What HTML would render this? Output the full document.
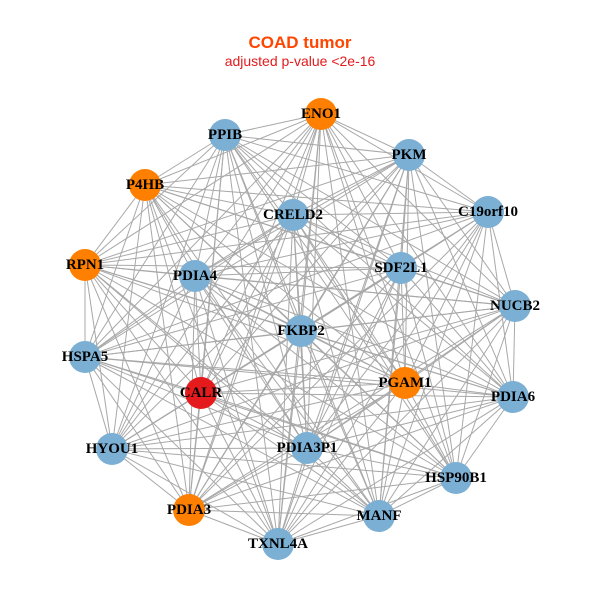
<!DOCTYPE html>
<html><head><meta charset="utf-8"><style>
html,body{margin:0;padding:0;background:#fff;width:600px;height:600px;overflow:hidden}
svg text.l{font-family:"Liberation Serif",serif;font-weight:bold;font-size:15px;fill:#000;text-anchor:middle;dominant-baseline:central}
</style></head><body>
<svg id="s" width="600" height="600" xmlns="http://www.w3.org/2000/svg">
<text x="300" y="48" text-anchor="middle" font-family="Liberation Sans, sans-serif" font-weight="bold" font-size="17" fill="#FF4500">COAD tumor</text>
<text x="300" y="66" text-anchor="middle" font-family="Liberation Sans, sans-serif" font-size="14" fill="#E41A1C">adjusted p-value &lt;2e-16</text>
<g id="edges" stroke="#a8a8a8" stroke-width="1"></g>
<g id="nodes">
<circle cx="321" cy="114" r="16" fill="#FF7F00"/><text class="l" x="321" y="114">ENO1</text>
<circle cx="225" cy="135" r="16" fill="#7BAFD4"/><text class="l" x="225" y="135">PPIB</text>
<circle cx="409" cy="155" r="16" fill="#7BAFD4"/><text class="l" x="409" y="155">PKM</text>
<circle cx="145" cy="185" r="16" fill="#FF7F00"/><text class="l" x="145" y="185">P4HB</text>
<circle cx="293" cy="215" r="16" fill="#7BAFD4"/><text class="l" x="293" y="215">CRELD2</text>
<circle cx="488" cy="212" r="16" fill="#7BAFD4"/><text class="l" x="488" y="212">C19orf10</text>
<circle cx="85" cy="265" r="16" fill="#FF7F00"/><text class="l" x="85" y="265">RPN1</text>
<circle cx="195" cy="276" r="16" fill="#7BAFD4"/><text class="l" x="195" y="276">PDIA4</text>
<circle cx="401" cy="268" r="16" fill="#7BAFD4"/><text class="l" x="401" y="268">SDF2L1</text>
<circle cx="515" cy="306" r="16" fill="#7BAFD4"/><text class="l" x="515" y="306">NUCB2</text>
<circle cx="301" cy="331" r="16" fill="#7BAFD4"/><text class="l" x="301" y="331">FKBP2</text>
<circle cx="85" cy="357" r="16" fill="#7BAFD4"/><text class="l" x="85" y="357">HSPA5</text>
<circle cx="201" cy="393" r="16" fill="#E41A1C"/><text class="l" x="201" y="393">CALR</text>
<circle cx="405" cy="383" r="16" fill="#FF7F00"/><text class="l" x="405" y="383">PGAM1</text>
<circle cx="513" cy="397" r="16" fill="#7BAFD4"/><text class="l" x="513" y="397">PDIA6</text>
<circle cx="112" cy="449" r="16" fill="#7BAFD4"/><text class="l" x="112" y="449">HYOU1</text>
<circle cx="307" cy="448" r="16" fill="#7BAFD4"/><text class="l" x="307" y="448">PDIA3P1</text>
<circle cx="456" cy="478" r="16" fill="#7BAFD4"/><text class="l" x="456" y="478">HSP90B1</text>
<circle cx="189" cy="510" r="16" fill="#FF7F00"/><text class="l" x="189" y="510">PDIA3</text>
<circle cx="379" cy="516" r="16" fill="#7BAFD4"/><text class="l" x="379" y="516">MANF</text>
<circle cx="278" cy="544" r="16" fill="#7BAFD4"/><text class="l" x="278" y="544">TXNL4A</text>
</g>
</svg>
<script>
var cs=document.querySelectorAll('#nodes circle'),g=document.getElementById('edges'),p=[];
cs.forEach(function(c){p.push([c.getAttribute('cx'),c.getAttribute('cy')]);});
for(var i=0;i<p.length;i++)for(var j=i+1;j<p.length;j++){
var l=document.createElementNS('http://www.w3.org/2000/svg','line');
l.setAttribute('x1',p[i][0]);l.setAttribute('y1',p[i][1]);l.setAttribute('x2',p[j][0]);l.setAttribute('y2',p[j][1]);g.appendChild(l);}
</script>
</body></html>
